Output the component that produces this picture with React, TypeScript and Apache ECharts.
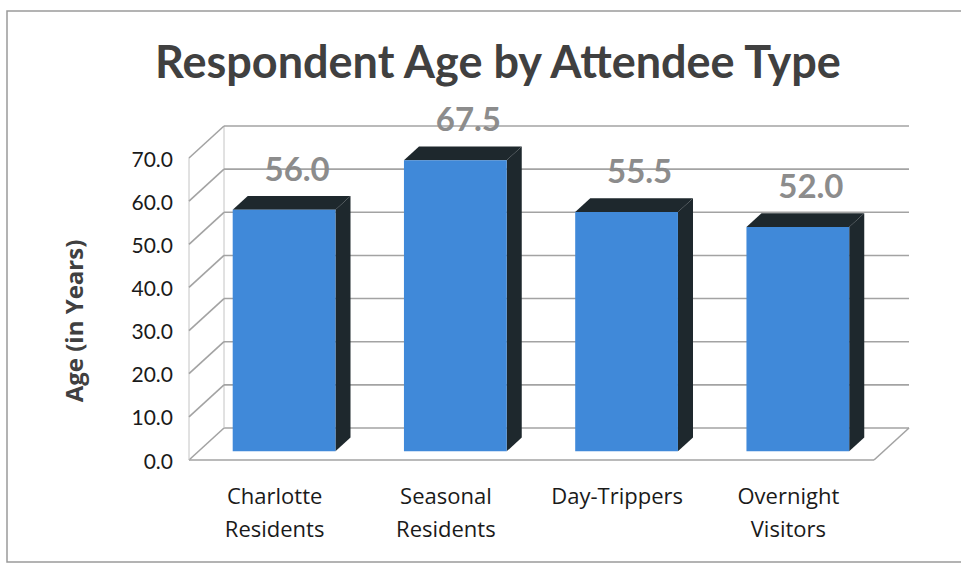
import React, { useEffect, useRef } from "react";
import * as echarts from "echarts";

const categories = ["Charlotte\nResidents", "Seasonal\nResidents", "Day-Trippers", "Overnight\nVisitors"];
const ages = [56.0, 67.5, 55.5, 52.0];
const tickValues = [0, 10, 20, 30, 40, 50, 60, 70];
const titleText = "Respondent Age by Attendee Type";
const yAxisTitle = "Age (in Years)";

const DEPTH = [35, -32];
const BAR_FRONT = 0.27;
const BAR_BACK = 0.7;
const GRID_COLOR = "#a3a3a3";

export default function App() {
  const ref = useRef<HTMLDivElement>(null);
  useEffect(() => {
    if (!ref.current) return;
    const chart = echarts.init(ref.current, null, { renderer: "svg" });
    const font = "Lato";
    const font2 = "Open Sans";
    chart.setOption({
      animation: false,
      backgroundColor: "#ffffff",
      title: {
        text: titleText,
        left: 150,
        top: 33,
        textStyle: { fontFamily: font, fontWeight: "bold", fontSize: 45, color: "#404040" },
      },
      graphic: [
        {
          type: "rect",
          shape: { x: 7, y: 11, width: 960, height: 551 },
          style: { fill: "none", stroke: "#9a9a9a", lineWidth: 1.5 },
          silent: true,
        },
        {
          type: "text",
          x: 73,
          y: 321,
          rotation: Math.PI / 2,
          style: {
            text: yAxisTitle,
            fontFamily: font2,
            fontWeight: "bold",
            fontSize: 24,
            fill: "#404040",
            align: "center",
            verticalAlign: "middle",
          },
        },
      ],
      grid: { left: 189, top: 158, width: 685, height: 302 },
      xAxis: {
        type: "category",
        data: categories,
        axisLine: { show: false },
        axisTick: { show: false },
        axisLabel: {
          margin: 18,
          fontFamily: font2,
          fontSize: 22,
          lineHeight: 33,
          color: "#1a1a1a",
          interval: 0,
        },
      },
      yAxis: {
        type: "value",
        min: 0,
        max: 70,
        interval: 10,
        axisLine: { show: false },
        axisTick: { show: false },
        splitLine: { show: false },
        axisLabel: {
          margin: 16,
          fontFamily: font,
          fontSize: 21,
          color: "#1a1a1a",
          formatter: (v: number) => v.toFixed(1),
        },
      },
      series: [
        {
          type: "custom",
          silent: true,
          data: tickValues.map((v) => [0, v]),
          renderItem: (params: any, api: any) => {
            const cs = params.coordSys;
            const v = api.value(1);
            const y = api.coord([0, v])[1];
            const xL = cs.x;
            const xR = cs.x + cs.width;
            const [dx, dy] = DEPTH;
            const style = { stroke: GRID_COLOR, lineWidth: 1.6, fill: "none" };
            const children: any[] = [
              { type: "line", shape: { x1: xL, y1: y, x2: xL + dx, y2: y + dy }, style },
              { type: "line", shape: { x1: xL + dx, y1: y + dy, x2: xR + dx, y2: y + dy }, style },
            ];
            if (params.dataIndex === 0) {
              const yTop = api.coord([0, tickValues[tickValues.length - 1]])[1];
              children.push(
                { type: "line", shape: { x1: xL, y1: y, x2: xR, y2: y }, style },
                { type: "line", shape: { x1: xR, y1: y, x2: xR + dx, y2: y + dy }, style },
                { type: "line", shape: { x1: xL, y1: y, x2: xL, y2: yTop }, style: { ...style, stroke: "#c4c4c4", lineWidth: 1 } },
                { type: "line", shape: { x1: xL + dx, y1: y + dy, x2: xL + dx, y2: yTop + dy }, style: { ...style, stroke: "#c4c4c4", lineWidth: 1 } }
              );
            }
            return { type: "group", children };
          },
          z: 1,
        },
        {
          type: "custom",
          data: ages.map((v, i) => [i, v]),
          renderItem: (params: any, api: any) => {
            const idx = api.value(0);
            const v = api.value(1);
            const top = api.coord([idx, v]);
            const base = api.coord([idx, 0]);
            const band = api.size([1, 0])[0];
            const w = band * 0.6;
            const [dx, dy] = DEPTH;
            const fx = dx * BAR_FRONT, fy = dy * BAR_FRONT;
            const bx = dx * BAR_BACK, by = dy * BAR_BACK;
            const L = top[0] - w / 2, R = top[0] + w / 2;
            const yT = top[1], yB = base[1];
            const dark = "#1e282d";
            return {
              type: "group",
              children: [
                {
                  type: "polygon",
                  shape: { points: [[R + fx, yT + fy], [R + bx, yT + by], [R + bx, yB + by], [R + fx, yB + fy]] },
                  style: { fill: dark },
                },
                {
                  type: "polygon",
                  shape: { points: [[L + fx, yT + fy], [R + fx, yT + fy], [R + bx, yT + by], [L + bx, yT + by]] },
                  style: { fill: dark },
                },
                {
                  type: "rect",
                  shape: { x: L + fx, y: yT + fy, width: w, height: yB - yT },
                  style: { fill: "#4089d9" },
                },
                {
                  type: "text",
                  x: (L + R) / 2 + bx - 2,
                  y: yT + by - 28,
                  style: {
                    text: v.toFixed(1),
                    fontFamily: font,
                    fontWeight: "bold",
                    fontSize: 33,
                    fill: "#8c8c8c",
                    align: "center",
                    verticalAlign: "middle",
                  },
                },
              ],
            };
          },
          z: 2,
        },
      ],
    });
    return () => chart.dispose();
  }, []);
  return <div ref={ref} style={{ width: 961, height: 564, position: "absolute", left: 0, top: 0 }} />;
}
